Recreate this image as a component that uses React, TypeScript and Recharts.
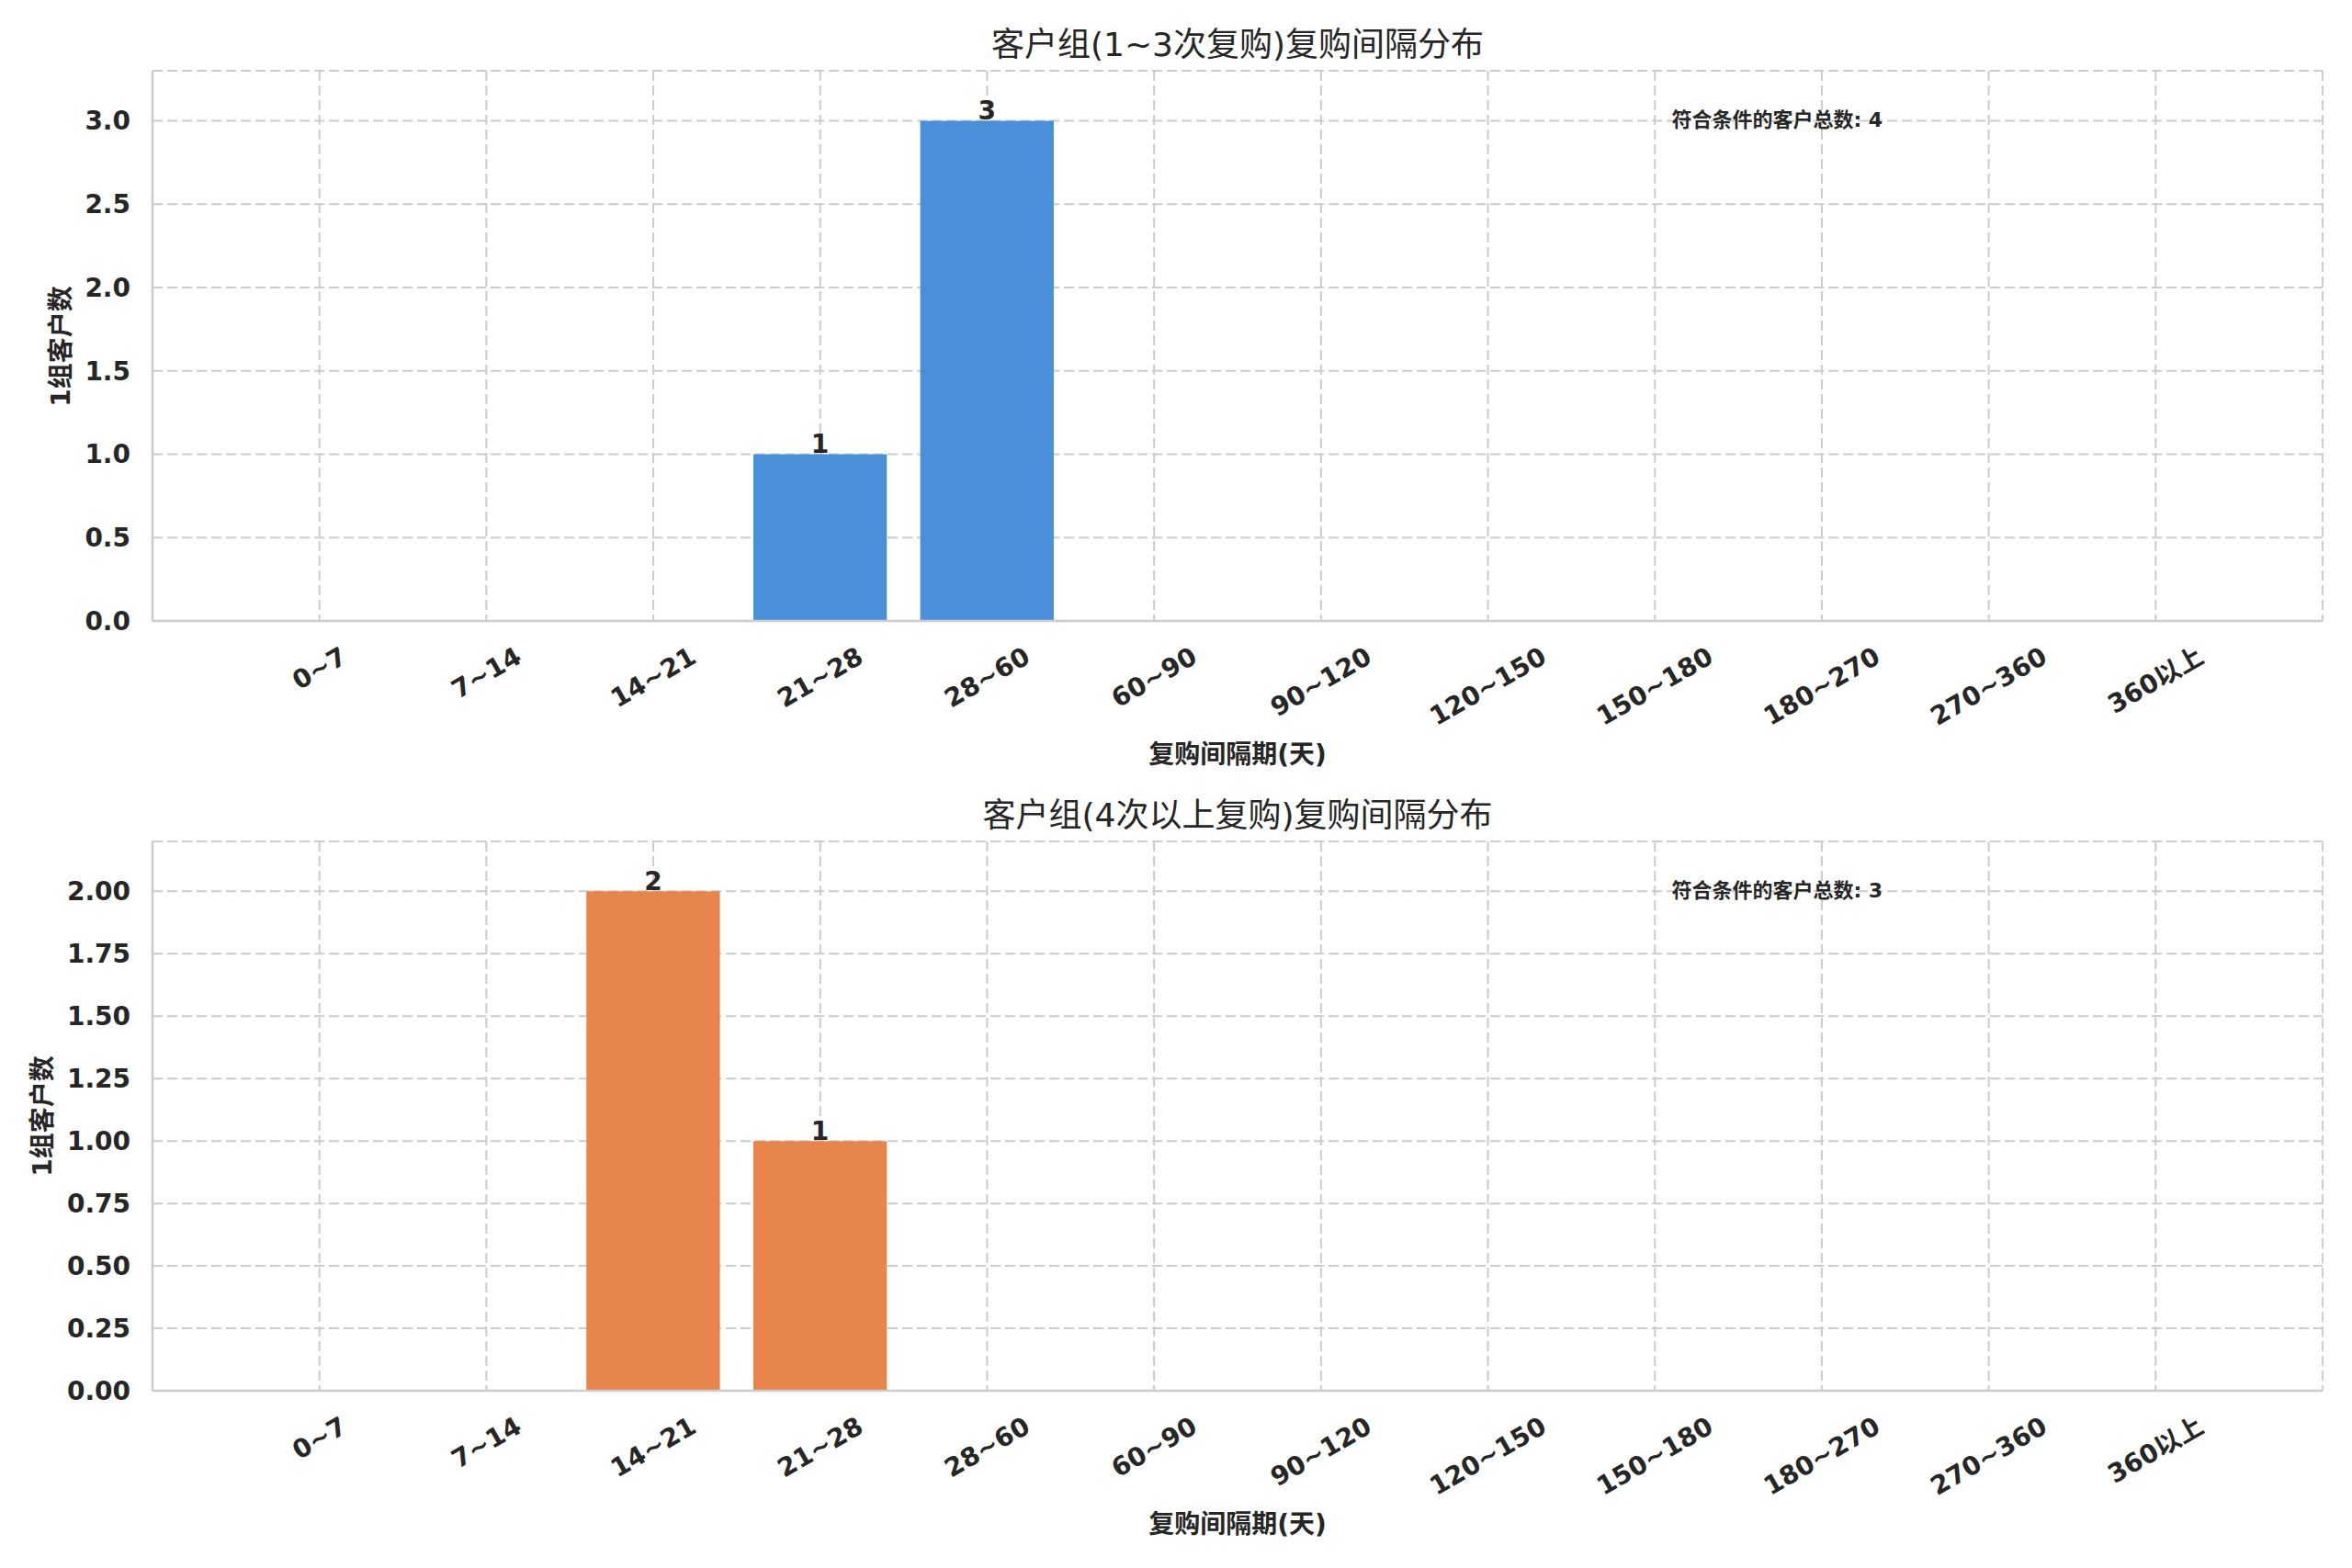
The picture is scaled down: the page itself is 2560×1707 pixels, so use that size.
import React from 'react';
import { BarChart, Bar, XAxis, YAxis, CartesianGrid, LabelList } from 'recharts';

const categories = ['0~7', '7~14', '14~21', '21~28', '28~60', '60~90', '90~120', '120~150', '150~180', '180~270', '270~360', '360以上'];
const lowFreqCounts = [0, 0, 0, 1, 3, 0, 0, 0, 0, 0, 0, 0];
const highFreqCounts = [0, 0, 2, 1, 0, 0, 0, 0, 0, 0, 0, 0];
const lowYTicks = [0, 0.5, 1, 1.5, 2, 2.5, 3];
const highYTicks = [0, 0.25, 0.5, 0.75, 1, 1.25, 1.5, 1.75, 2];
const lowYMax = 3.3;
const highYMax = 2.2;
const lowTitle = '客户组(1~3次复购)复购间隔分布';
const highTitle = '客户组(4次以上复购)复购间隔分布';
const xAxisTitle = '复购间隔期(天)';
const yAxisTitle = '1组客户数';
const totalLabel = '符合条件的客户总数';
const lowTotal = 4;
const highTotal = 3;

const FONT = '"DejaVu Sans", "Noto Sans CJK SC", sans-serif';
const INK = '#262626';
const GRID = '#cccccc';

const W = 2560;
const PLOT_LEFT = 166;
const PLOT_RIGHT = 2528;
const PLOT_W = PLOT_RIGHT - PLOT_LEFT;
const CHART_H = 800;
const Y_AXIS_W = 120;
const X_AXIS_H = 100;

let ctx: CanvasRenderingContext2D | null = null;
function measure(text: string, size: number): number {
  if (!ctx) {
    const c = document.createElement('canvas');
    ctx = c.getContext('2d');
  }
  if (!ctx) return text.length * size * 0.65;
  ctx.font = `bold ${size}px ${FONT}`;
  return ctx.measureText(text).width;
}

const XTick = (props: any) => {
  const { x, y, payload } = props;
  const label = categories[payload.value];
  if (label === undefined) return null;
  const fs = 28;
  const w = measure(label, fs);
  const h = fs * 1.164;
  const th = Math.PI / 6;
  const bboxH = w * Math.sin(th) + h * Math.cos(th);
  const cy = y + 22 + bboxH / 2;
  return (
    <text
      x={x}
      y={cy}
      transform={`rotate(-30 ${x} ${cy})`}
      textAnchor="middle"
      dominantBaseline="central"
      fontFamily={FONT}
      fontWeight="bold"
      fontSize={fs}
      fill={INK}
    >
      {label}
    </text>
  );
};

const ValueLabel = (props: any) => {
  const { x, y, width, value } = props;
  if (!value) return null;
  return (
    <text
      x={x + width / 2}
      y={y - 1}
      textAnchor="middle"
      fontFamily={FONT}
      fontWeight="bold"
      fontSize={28}
      fill={INK}
    >
      {value}
    </text>
  );
};

type PanelProps = {
  top: number;
  plotTop: number;
  values: number[];
  color: string;
  yTicks: number[];
  yMax: number;
  decimals: number;
  title: string;
  total: number;
  yLabelX: number;
};

function Panel({ top, plotTop, values, color, yTicks, yMax, decimals, title, total, yLabelX }: PanelProps) {
  const rows = categories.map((c, i) => ({ i, label: c, value: values[i] }));
  const plotBottom = CHART_H - X_AXIS_H - 24;
  const marginBottom = CHART_H - X_AXIS_H - plotBottom;
  const plotH = plotBottom - plotTop;
  const barSize = (PLOT_W / 13) * 0.8;
  const xTicks = categories.map((_, i) => i);
  const axisStroke = { stroke: GRID, strokeWidth: 2.5 };
  return (
    <div style={{ position: 'absolute', left: 0, top, width: W, height: CHART_H }}>
      <BarChart
        width={W}
        height={CHART_H}
        data={rows}
        margin={{ top: plotTop, right: W - PLOT_RIGHT, bottom: marginBottom, left: PLOT_LEFT - Y_AXIS_W }}
      >
        <CartesianGrid stroke={GRID} strokeWidth={2} strokeDasharray="11 5" />
        <XAxis
          dataKey="i"
          type="number"
          domain={[-1, 12]}
          ticks={xTicks}
          interval={0}
          allowDataOverflow
          height={X_AXIS_H}
          tickSize={0}
          tickMargin={0}
          tickLine={false}
          axisLine={axisStroke}
          tick={<XTick />}
        />
        <XAxis
          xAxisId="top"
          orientation="top"
          type="number"
          domain={[-1, 12]}
          height={0}
          tick={false}
          tickLine={false}
          axisLine={axisStroke}
        />
        <YAxis
          type="number"
          domain={[0, yMax]}
          ticks={yTicks}
          interval={0}
          allowDataOverflow
          width={Y_AXIS_W}
          tickSize={0}
          tickMargin={24}
          tickLine={false}
          axisLine={axisStroke}
          tickFormatter={(v: number) => v.toFixed(decimals)}
          tick={{ fontFamily: FONT, fontWeight: 'bold', fontSize: 28, fill: INK }}
        />
        <YAxis
          yAxisId="right"
          orientation="right"
          type="number"
          domain={[0, yMax]}
          width={0}
          tick={false}
          tickLine={false}
          axisLine={axisStroke}
        />
        <Bar dataKey="value" fill={color} barSize={barSize} isAnimationActive={false}>
          <LabelList dataKey="value" content={<ValueLabel />} />
        </Bar>
      </BarChart>
      <div
        style={{
          position: 'absolute',
          left: (PLOT_LEFT + PLOT_RIGHT) / 2,
          top: plotTop - 28,
          transform: 'translate(-50%, -50%)',
          fontFamily: FONT,
          fontSize: 36,
          color: INK,
          whiteSpace: 'nowrap',
          lineHeight: 1,
        }}
      >
        {title}
      </div>
      <div
        style={{
          position: 'absolute',
          left: (PLOT_LEFT + PLOT_RIGHT) / 2,
          top: plotBottom + 146,
          transform: 'translate(-50%, -50%)',
          fontFamily: FONT,
          fontSize: 28,
          fontWeight: 'bold',
          color: INK,
          whiteSpace: 'nowrap',
          lineHeight: 1,
        }}
      >
        {xAxisTitle}
      </div>
      <div
        style={{
          position: 'absolute',
          left: yLabelX,
          top: (plotTop + plotBottom) / 2,
          transform: 'translate(-50%, -50%) rotate(-90deg)',
          fontFamily: FONT,
          fontSize: 28,
          fontWeight: 'bold',
          color: INK,
          whiteSpace: 'nowrap',
          lineHeight: 1,
        }}
      >
        {yAxisTitle}
      </div>
      <div
        style={{
          position: 'absolute',
          left: PLOT_LEFT + PLOT_W * 0.7,
          top: plotTop + plotH * 0.09,
          transform: 'translateY(-50%)',
          fontFamily: FONT,
          fontSize: 22,
          fontWeight: 'bold',
          color: INK,
          whiteSpace: 'nowrap',
          lineHeight: 1,
        }}
      >
        {`${totalLabel}: ${total}`}
      </div>
    </div>
  );
}

export default function App() {
  return (
    <div style={{ position: 'absolute', left: 0, top: 0, width: W, height: 1707, background: '#ffffff', overflow: 'hidden' }}>
      <Panel
        top={0}
        plotTop={77}
        values={lowFreqCounts}
        color="#4A90D9"
        yTicks={lowYTicks}
        yMax={lowYMax}
        decimals={1}
        title={lowTitle}
        total={lowTotal}
        yLabelX={67}
      />
      <Panel
        top={838}
        plotTop={78}
        values={highFreqCounts}
        color="#E8854D"
        yTicks={highYTicks}
        yMax={highYMax}
        decimals={2}
        title={highTitle}
        total={highTotal}
        yLabelX={47}
      />
    </div>
  );
}
